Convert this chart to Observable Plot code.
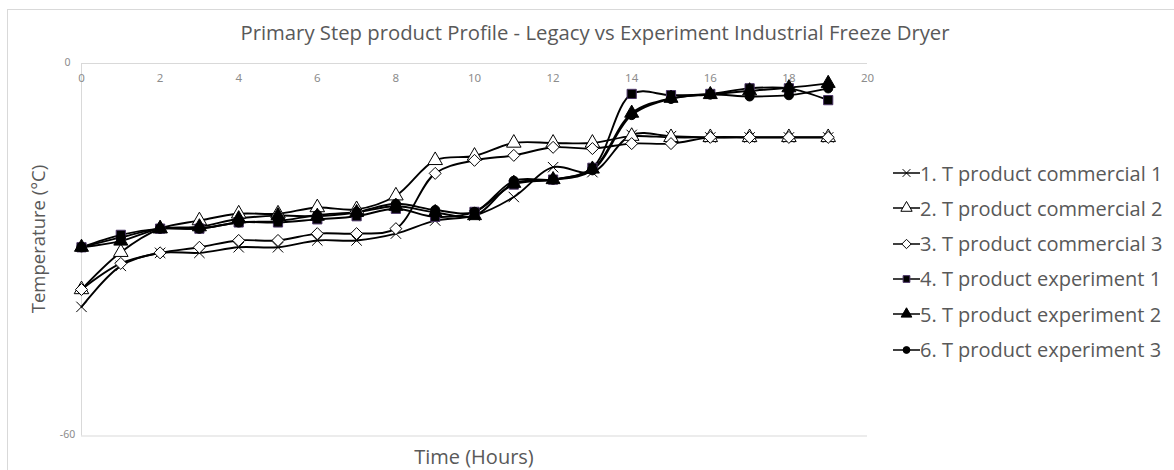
<!DOCTYPE html>
<html>
<head>
<meta charset="utf-8">
<script src="https://cdn.jsdelivr.net/npm/d3@7"></script>
<script src="https://cdn.jsdelivr.net/npm/@observablehq/plot@0.6"></script>
<style>
  html, body { margin: 0; padding: 0; background: #fff; }
  #wrap { position: relative; width: 1174px; height: 470px; overflow: hidden; font-family: "Open Sans", sans-serif; color: #595959; }
  #border { position: absolute; left: 7px; top: 9px; width: 1200px; height: 500px; border: 1px solid #d9d9d9; box-sizing: border-box; }
  #title { position: absolute; left: 0; width: 1190px; top: 32px; transform: translateY(-50%); text-align: center; font-size: 20.3px; white-space: nowrap; }
  #ylab { position: absolute; left: 37px; top: 239px; transform: translate(-50%, -50%) rotate(-90deg); font-size: 18.5px; white-space: nowrap; }
  #xlab { position: absolute; left: 474px; top: 456px; transform: translate(-50%, -50%); font-size: 20px; white-space: nowrap; }
  #chart { position: absolute; left: 0; top: 0; }
  #legend { position: absolute; left: 893px; top: 160px; }
  .row { position: absolute; left: 0; height: 26px; display: flex; align-items: center; white-space: nowrap; font-size: 20px; }
  .row svg { flex: none; margin-right: 0px; }
</style>
</head>
<body>
<div id="wrap">
  <div id="border"></div>
  <div id="title">Primary Step product Profile - Legacy vs Experiment Industrial Freeze Dryer</div>
  <div id="chart"></div>
  <div id="ylab">Temperature (°C)</div>
  <div id="xlab">Time (Hours)</div>
  <div id="legend"></div>
</div>
<script>
// ---- data ----
const hours = [0,1,2,3,4,5,6,7,8,9,10,11,12,13,14,15,16,17,18,19];
const seriesNames = [
  "1. T product commercial 1",
  "2. T product commercial 2",
  "3. T product commercial 3",
  "4. T product experiment 1",
  "5. T product experiment 2",
  "6. T product experiment 3"
];
const commercial1 = [-39.2,-32.6,-30.5,-30.5,-29.6,-29.6,-28.5,-28.5,-27.4,-25.3,-24.5,-21.5,-16.7,-17.5,-11.5,-11.7,-11.9,-11.9,-11.9,-11.9];
const commercial2 = [-36.4,-30.4,-26.6,-25.3,-24.2,-24.2,-23.2,-23.5,-21.3,-15.6,-14.9,-12.8,-12.8,-12.8,-11.7,-11.9,-11.9,-11.9,-11.9,-11.9];
const commercial3 = [-36.4,-32.2,-30.5,-29.6,-28.5,-28.5,-27.4,-27.4,-26.6,-17.7,-15.6,-14.8,-13.5,-13.7,-12.9,-12.9,-11.9,-11.9,-11.9,-11.9];
const experiment1 = [-29.6,-27.6,-26.6,-26.6,-25.6,-25.6,-25.1,-24.6,-23.4,-24.7,-23.9,-19.5,-18.7,-16.8,-4.9,-5.1,-4.9,-4.0,-4.0,-5.9];
const experiment2 = [-29.6,-28.6,-26.6,-26.3,-25.0,-24.5,-24.6,-24.0,-23.0,-24.0,-24.5,-19.3,-18.7,-17.0,-8.0,-5.6,-5.0,-4.4,-3.9,-3.2];
const experiment3 = [-29.6,-28.0,-26.6,-26.6,-25.6,-25.4,-24.4,-23.9,-22.6,-23.6,-23.9,-18.9,-18.7,-17.2,-8.3,-5.7,-5.0,-5.3,-5.1,-4.0];
const xTicks = [0,2,4,6,8,10,12,14,16,18,20];
const yTicks = [0,-60];

const allValues = [commercial1, commercial2, commercial3, experiment1, experiment2, experiment3];

// ---- styles per series ----
const styles = [
  {symbol: "times",    fill: "none",  stroke: "#000", r: 4.8, sw: 1},
  {symbol: "triangle", fill: "#fff",  stroke: "#000", r: 5.4, sw: 1},
  {symbol: "diamond2", fill: "#fff",  stroke: "#000", r: 5.4, sw: 1},
  {symbol: "square",   fill: "#000",  stroke: "#4b3566", r: 5.2, sw: 1},
  {symbol: "triangle", fill: "#000",  stroke: "#000", r: 5.2, sw: 1},
  {symbol: "circle",   fill: "#000",  stroke: "#000", r: 4.6, sw: 1}
];
const legendR = [3.6, 4.2, 4.2, 3.8, 4.0, 3.4];

const rows = [];
allValues.forEach((vals, i) => vals.forEach((v, j) => rows.push({series: seriesNames[i], idx: i, h: hours[j], v})));

const marks = [
  Plot.ruleY(yTicks, {stroke: "#d9d9d9", strokeWidth: 1}),
  Plot.ruleX([0], {stroke: "#d9d9d9", strokeWidth: 1}),
  Plot.text(xTicks, {x: d => d, y: 0, dy: 15, text: d => String(d), fill: "#8c8c8c", fontSize: 11.5}),
  Plot.text(yTicks, {x: 0, y: d => d, dx: -14, dy: -1, text: d => String(d), fill: "#8c8c8c", fontSize: 10.5, textAnchor: "middle"})
];
allValues.forEach((vals, i) => {
  const d = rows.filter(r => r.idx === i);
  marks.push(Plot.line(d, {x: "h", y: "v", curve: "catmull-rom", stroke: "#000", strokeWidth: 1.9}));
});
allValues.forEach((vals, i) => {
  const d = rows.filter(r => r.idx === i);
  const s = styles[i];
  marks.push(Plot.dot(d, {x: "h", y: "v", symbol: () => s.symbol, r: s.r, fill: s.fill, stroke: s.stroke, strokeWidth: s.sw}));
});

const chart = Plot.plot({
  width: 900,
  height: 470,
  marginLeft: 81,
  marginRight: 33,
  marginTop: 63,
  marginBottom: 34.5,
  x: {domain: [0, 20], axis: null},
  y: {domain: [-60, 0], axis: null},
  symbol: {type: "identity"},
  style: {background: "transparent", overflow: "visible"},
  marks
});
document.getElementById("chart").appendChild(chart);

// ---- legend ----
const leg = document.getElementById("legend");
const symMap = {times: d3.symbolTimes, triangle: d3.symbolTriangle, diamond2: d3.symbolDiamond2, square: d3.symbolSquare, circle: d3.symbolCircle};
seriesNames.forEach((name, i) => {
  const s = styles[i];
  const row = document.createElement("div");
  row.className = "row";
  row.style.top = (i * 35.3) + "px";
  const svg = d3.create("svg").attr("width", 27).attr("height", 20);
  svg.append("line").attr("x1", 0).attr("x2", 27).attr("y1", 10).attr("y2", 10).attr("stroke", "#000").attr("stroke-width", 1.5);
  const size = Math.PI * Math.pow(legendR[i], 2);
  svg.append("path").attr("transform", "translate(13.5,10)")
    .attr("d", d3.symbol(symMap[s.symbol], size)())
    .attr("fill", s.fill === "none" ? "none" : s.fill)
    .attr("stroke", s.stroke).attr("stroke-width", 1);
  row.appendChild(svg.node());
  const t = document.createElement("span");
  t.textContent = name;
  row.appendChild(t);
  leg.appendChild(row);
});
</script>
</body>
</html>
